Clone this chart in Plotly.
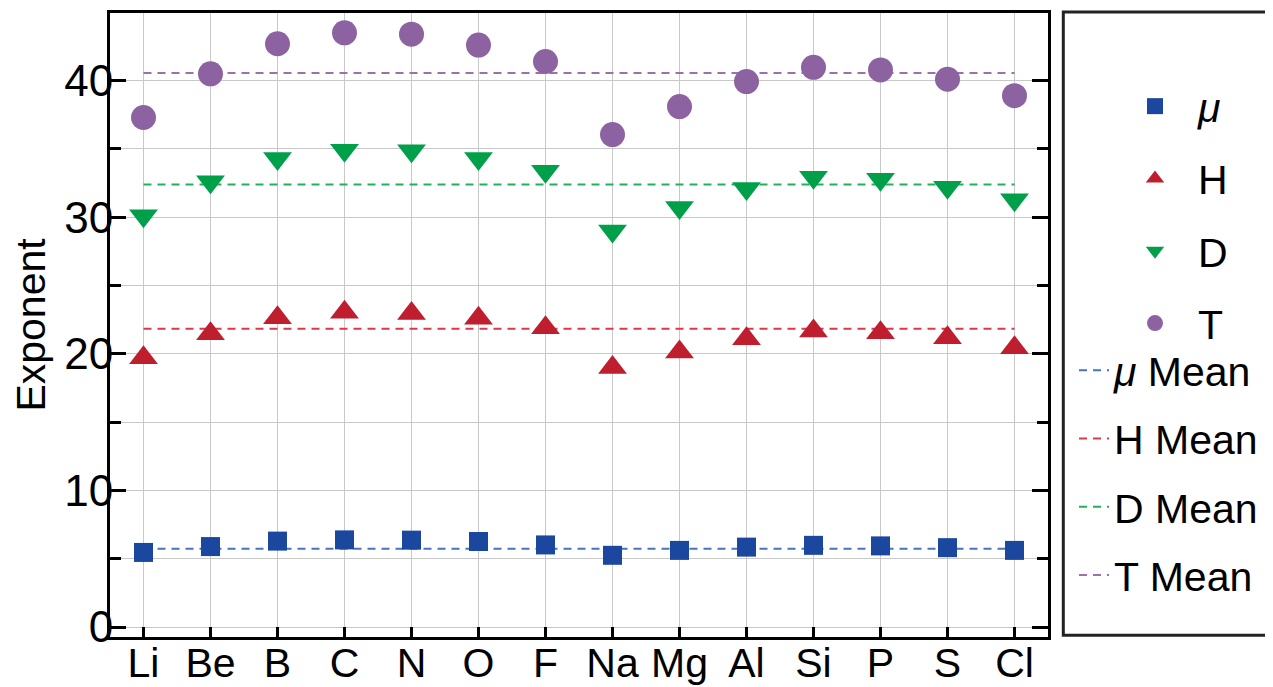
import plotly.graph_objects as go

categories = ["Li", "Be", "B", "C", "N", "O", "F", "Na", "Mg", "Al", "Si", "P", "S", "Cl"]
mu_vals = [5.46, 5.89, 6.29, 6.38, 6.36, 6.26, 6.01, 5.25, 5.61, 5.85, 5.98, 5.94, 5.81, 5.61]
h_vals = [19.72, 21.47, 22.64, 23.04, 22.95, 22.61, 21.90, 19.00, 20.13, 21.10, 21.67, 21.54, 21.18, 20.45]
d_vals = [30.10, 32.60, 34.30, 34.90, 34.87, 34.30, 33.36, 29.00, 30.72, 32.10, 32.93, 32.78, 32.20, 31.28]
t_vals = [37.30, 40.50, 42.70, 43.50, 43.40, 42.60, 41.40, 36.05, 38.10, 39.93, 40.97, 40.78, 40.10, 38.90]
mean_vals = {"mu": 5.73, "H": 21.83, "D": 32.39, "T": 40.56}
y_ticks = [0, 10, 20, 30, 40]

FONT = "Liberation Sans, Arial, sans-serif"
FS = 41
FS_Y = 44

series = [
    ("<i>μ</i>", mu_vals, "square", 19, "#1B479E"),
    ("H", h_vals, "triangle-up", 25, "#BE1E2D"),
    ("D", d_vals, "triangle-down", 25, "#00A04B"),
    ("T", t_vals, "circle", 25, "#8C62A0"),
]
mean_lines = [
    ("<i>μ</i> Mean", mean_vals["mu"], "#4A72C2"),
    ("H Mean", mean_vals["H"], "#D93A4A"),
    ("D Mean", mean_vals["D"], "#22B05A"),
    ("T Mean", mean_vals["T"], "#9A70B0"),
]

fig = go.Figure()

for i, (name, m, color) in enumerate(mean_lines):
    fig.add_trace(go.Scatter(
        x=[categories[0], categories[-1]], y=[m, m], mode="lines", name=name,
        line=dict(color=color, width=2, dash="8px,6px"),
        legend="legend2", legendgroup="m%d" % i,
    ))

for i, (name, vals, sym, size, color) in enumerate(series):
    fig.add_trace(go.Scatter(
        x=categories, y=vals, mode="markers", name=name,
        marker=dict(symbol=sym, size=size, color=color, line=dict(width=0)),
        legend="legend", legendgroup="s%d" % i,
    ))

# the page body adds an 8px offset; figure is sized to the visible area
W, H = 1265, 679
L, R, T, B = 102, 225.3, 4.7, 50.3
PW, PH = W - L - R, H - T - B

fig.update_layout(
    width=W, height=H,
    margin=dict(l=L, r=R, t=T, b=B, autoexpand=False),
    paper_bgcolor="white", plot_bgcolor="white",
    font=dict(family=FONT, size=FS, color="black"),
    legend=dict(
        xref="container", yref="container",
        x=1104 / W, y=1 - 65 / H, xanchor="left", yanchor="top",
        font=dict(family=FONT, size=FS), tracegroupgap=16, itemwidth=76,
        bgcolor="rgba(0,0,0,0)", borderwidth=0, traceorder="grouped",
    ),
    legend2=dict(
        xref="container", yref="container",
        x=1066 / W, y=1 - 329 / H, xanchor="left", yanchor="top",
        font=dict(family=FONT, size=FS), tracegroupgap=12,
        bgcolor="rgba(0,0,0,0)", borderwidth=0, traceorder="grouped",
    ),
    shapes=[dict(
        type="rect", xref="paper", yref="paper",
        x0=(1055 - L) / PW, x1=(1285 - L) / PW,
        y0=(H - B - 627) / PH, y1=(H - B - 3.7) / PH,
        line=dict(color="#222222", width=3), fillcolor="rgba(0,0,0,0)",
    )],
)

fig.update_xaxes(
    type="category", categoryorder="array", categoryarray=categories,
    range=[-0.5, 13.5], automargin=False,
    showline=True, linecolor="black", linewidth=3, mirror=True,
    ticks="inside", ticklen=10, tickwidth=3, tickcolor="black",
    showgrid=True, gridcolor="#C8C8C8", gridwidth=1.3,
    tickfont=dict(family=FONT, size=FS), zeroline=False,
    ticklabelstandoff=-12,
)
fig.update_yaxes(
    range=[-0.73, 44.95], automargin=False,
    tickmode="array", tickvals=y_ticks, ticktext=[str(v) for v in y_ticks],
    showline=True, linecolor="black", linewidth=3, mirror="ticks",
    ticks="inside", ticklen=16, tickwidth=3, tickcolor="black",
    showgrid=True, gridcolor="#C8C8C8", gridwidth=1.3, zeroline=False,
    minor=dict(dtick=5, tick0=0, ticks="inside", ticklen=11, tickwidth=3,
               tickcolor="black", showgrid=True, gridcolor="#C8C8C8", gridwidth=1.3),
    tickfont=dict(family=FONT, size=FS_Y),
    ticklabelstandoff=-15,
    title=dict(text="Exponent", font=dict(family=FONT, size=FS), standoff=12),
)

fig.write_html("out.html")
